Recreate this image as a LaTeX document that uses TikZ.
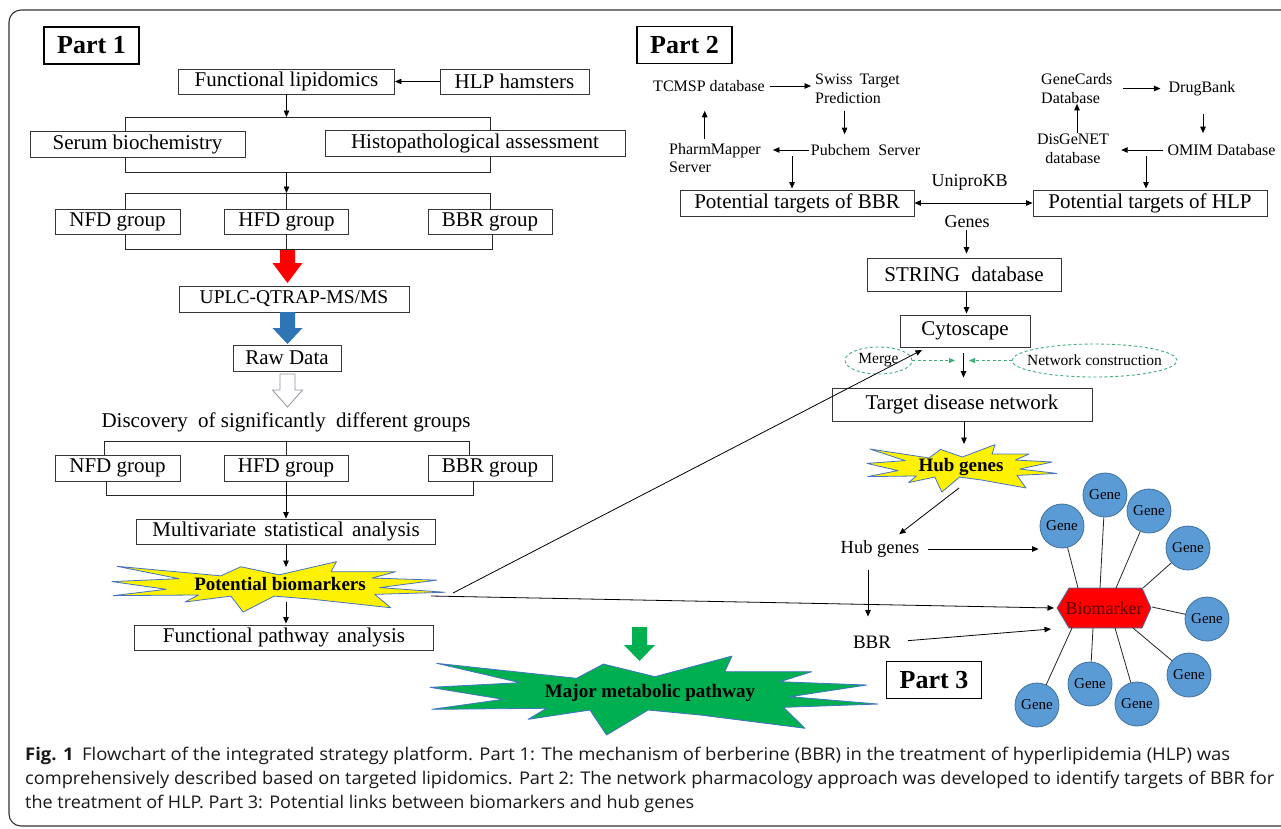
\documentclass[tikz,border=0pt]{standalone}
\usepackage{fontspec}
\usepackage{graphicx}
\setmainfont{Liberation Serif}
\newfontfamily\capfont{Open Sans}
\usetikzlibrary{arrows.meta}
\definecolor{boxline}{RGB}{55,55,55}
\definecolor{bluearr}{RGB}{46,117,182}
\definecolor{grayarr}{RGB}{140,150,165}
\definecolor{greenfill}{RGB}{0,176,80}
\definecolor{burstline}{RGB}{68,114,196}
\definecolor{genefill}{RGB}{91,155,213}
\definecolor{geneline}{RGB}{65,113,156}
\definecolor{dashgreen}{RGB}{60,175,120}
\definecolor{bmtext}{RGB}{90,0,0}
\tikzset{
 box/.style={draw=boxline, line width=0.9pt, inner sep=0pt, font=\fontsize{21}{24}\selectfont},
 titlebox/.style={draw=black, line width=1.5pt, inner sep=0pt, minimum width=95pt, minimum height=37pt, font=\bfseries\fontsize{26}{26}\selectfont},
 lab/.style={inner sep=0pt, font=\fontsize{16}{19}\selectfont, align=left},
 arr/.style={draw=black, line width=0.8pt, -{Triangle[length=6.5pt,width=5.5pt]}},
 dbl/.style={draw=black, line width=0.8pt, {Triangle[length=6.5pt,width=5.5pt]}-{Triangle[length=6.5pt,width=5.5pt]}},
 link/.style={draw=black!85, line width=0.8pt},
 greendash/.style={draw=dashgreen, line width=0.9pt, dash pattern=on 3pt off 2.5pt},
 greenarr/.style={greendash, -{Triangle[length=6pt,width=5pt]}},
 gene/.style={circle, fill=genefill, draw=geneline, line width=0.8pt, minimum size=44pt, inner sep=0pt, font=\fontsize{15}{15}\selectfont},
 burstyellow/.style={fill=yellow, draw=burstline, line width=0.8pt, line join=round},
 burstgreen/.style={fill=greenfill, draw=burstline, line width=0.8pt, line join=round},
 bursttext/.style={inner sep=0pt, font=\bfseries\fontsize{19}{19}\selectfont},
 captext/.style={anchor=base west, inner sep=0pt, text=black!90},
}
\newcommand{\burstshape}[5]{%
 \begin{scope}[shift={(#2,#3)}, xscale=#4, yscale=#5]
 \draw[#1] (0.015,0.104) -- (0.327,0.291) -- (0.387,0.113) -- (0.502,0.271) -- (0.674,0.013) -- (0.658,0.209) -- (0.852,0.209) -- (0.781,0.334) -- (0.975,0.375) -- (0.804,0.521) -- (1.0,0.613) -- (0.789,0.654) -- (0.837,0.916) -- (0.603,0.75) -- (0.487,0.688) -- (0.394,1.0) -- (0.357,0.688) -- (0.219,0.804) -- (0.260,0.666) -- (0.004,0.679) -- (0.163,0.554) -- (0.0,0.404) -- (0.201,0.346) -- cycle;
 \end{scope}}
\newcommand{\blockarrow}[6]{\draw[#1] ({#2-7.5},#3) -- ({#2+7.5},#3) -- ({#2+7.5},#4) -- ({#2+#6},#4) -- (#2,#5) -- ({#2-#6},#4) -- ({#2-7.5},#4) -- cycle;}
\begin{document}
\begin{tikzpicture}[x=1pt,y=-1pt]
\useasboundingbox (0,0) rectangle (1281,828);
\clip (0,0) rectangle (1281,828);
\fill[white] (0,0) rectangle (1281,828);
\draw[black!80, line width=1.1pt, rounded corners=12pt] (9,10) rectangle (1300,826);

% ---------------- Part 1 ----------------
\node[titlebox] (p1) at (91.5,45.5) {Part 1};
\node[box, minimum width=216pt, minimum height=25pt] (func) at (286.5,81.5) {Functional lipidomics};
\node[box, minimum width=149pt, minimum height=25pt] (hlp) at (514.5,81.5) {HLP hamsters};
\draw[arr] (hlp.west) -- (func.east);
\node[box, minimum width=215pt, minimum height=26pt] (serum) at (137.5,144) {Serum biochemistry};
\node[box, minimum width=300pt, minimum height=26pt] (histo) at (475,143) {Histopathological assessment};
\coordinate (b1l) at (125,117); \coordinate (b1r) at (490,117);
\draw[arr] (func.south) -- (func.south |- b1l);
\draw[link] (b1l |- serum.north) -- (b1l) -- (b1r) -- (b1r |- histo.north);
\coordinate (b2l) at (125,172); \coordinate (b2r) at (490,172); \coordinate (b2m) at (286.5,172);
\draw[link] (b1l |- serum.south) -- (b2l) -- (b2r) -- (b1r |- histo.south);
\node[box, minimum width=125pt, minimum height=25pt] (nfd1) at (117.5,221.5) {NFD group};
\node[box, minimum width=124pt, minimum height=25pt] (hfd1) at (286.5,221.5) {HFD group};
\node[box, minimum width=124pt, minimum height=25pt] (bbr1) at (490,221.5) {BBR group};
\coordinate (b3l) at (125,193); \coordinate (b3r) at (490,193); \coordinate (b3m) at (286.5,193);
\draw[arr] (b2m) -- (b3m);
\draw[link] (b3l |- nfd1.north) -- (b3l) -- (b3r) -- (b3r |- bbr1.north);
\draw[link] (b3m) -- (hfd1.north);
\coordinate (b4l) at (125,249); \coordinate (b4r) at (492,249);
\draw[link] (b4l |- nfd1.south) -- (b4l) -- (b4r) -- (b4r |- bbr1.south);
\draw[link] (hfd1.south) -- (hfd1.south |- b4l);
\blockarrow{fill=red, draw=none}{287.5}{250}{263}{283}{15}
\node[box, minimum width=230pt, minimum height=26pt, font=\fontsize{19.5}{22}\selectfont] (uplc) at (294,299) {UPLC-QTRAP-MS/MS};
\blockarrow{fill=bluearr, draw=none}{287.5}{312}{328}{344}{15}
\node[box, minimum width=108pt, minimum height=26pt] (raw) at (287,358) {Raw Data};
\blockarrow{fill=white, draw=grayarr, line width=0.8pt}{287.5}{374}{390}{407}{15}
\node[inner sep=0pt, font=\fontsize{21}{24}\selectfont] (disc) at (286,422) {Discovery\hspace{5pt} of significantly\hspace{5pt} different groups};
\node[box, minimum width=125pt, minimum height=26pt] (nfd2) at (117.5,468) {NFD group};
\node[box, minimum width=124pt, minimum height=26pt] (hfd2) at (286,468) {HFD group};
\node[box, minimum width=124pt, minimum height=26pt] (bbr2) at (490,468) {BBR group};
\coordinate (b5l) at (104,441); \coordinate (b5r) at (469,441); \coordinate (b5m) at (286,441);
\draw[link] (b5l |- nfd2.north) -- (b5l) -- (b5r) -- (b5r |- bbr2.north);
\draw[link] (b5m) -- (hfd2.north);
\coordinate (b6l) at (106,495); \coordinate (b6r) at (473,495);
\draw[link] (b6l |- nfd2.south) -- (b6l) -- (b6r) -- (b6r |- bbr2.south);
\node[box, minimum width=299pt, minimum height=25pt] (multi) at (286,531.5) {Multivariate\hspace{3pt} statistical\hspace{3pt} analysis};
\draw[arr] (hfd2.south) -- (multi.north);
\burstshape{burstyellow}{112}{561}{333}{51}
\node[bursttext] (pb) at (280,584) {Potential biomarkers};
\coordinate (pbtop) at (286,567);
\draw[arr] (multi.south) -- (pbtop);
\node[box, minimum width=299pt, minimum height=25pt] (fpa) at (284,637.5) {Functional pathway\hspace{3pt} analysis};
\coordinate (pbbot) at (286,602);
\draw[arr, shorten >=1pt] (pbbot) -- (pbbot |- fpa.north);
\blockarrow{fill=greenfill, draw=none}{639.5}{627}{645}{661}{15.5}
\burstshape{burstgreen}{430}{655}{448}{80}
\node[bursttext] (mmp) at (650,693) {Major metabolic pathway};

% ---------------- Part 2 ----------------
\node[titlebox] (p2) at (684.5,45) {Part 2};
\node[lab] (tcmsp) at (709,86) {TCMSP database};
\node[lab, anchor=west] (swiss) at (815,88.5) {Swiss\hspace{3pt} Target\\Prediction};
\node[lab] (pub) at (865.5,150) {Pubchem\hspace{4pt} Server};
\node[lab, anchor=west, font=\fontsize{16}{18}\selectfont] (pharm) at (669,158) {PharmMapper\\Server};
\coordinate (x1) at (844.6,0); \coordinate (x2) at (704.7,0); \coordinate (x3) at (792,0);
\draw[arr, shorten <=5pt, shorten >=4pt] (tcmsp.east) -- (tcmsp.east -| swiss.west);
\draw[arr, shorten <=7pt, shorten >=10pt] (swiss.south -| x1) -- (pub.north -| x1);
\draw[arr, shorten <=2pt, shorten >=12pt] (pub.west) -- (pub.west -| pharm.east);
\draw[arr, shorten <=4pt, shorten >=19pt] (pharm.north -| x2) -- (tcmsp.south -| x2);
\node[box, minimum width=234pt, minimum height=26pt] (bbrT) at (797,203) {Potential targets of BBR};
\node[box, minimum width=234pt, minimum height=26pt] (hlpT) at (1150,203) {Potential targets of HLP};
\draw[arr, shorten >=1pt] (pub.south -| x3) -- (bbrT.north -| x3);
\draw[dbl] (bbrT.east) -- (hlpT.west);
\node[inner sep=0pt, font=\fontsize{18}{18}\selectfont] (uni) at (969.6,182) {UniproKB};
\node[inner sep=0pt, font=\fontsize{18}{18}\selectfont] (genes) at (967,222) {Genes};
\node[lab, anchor=west] (gc) at (1041,88.5) {GeneCards\\Database};
\node[lab] (db) at (1202,89) {DrugBank};
\node[lab] (omim) at (1221.5,150) {OMIM Database};
\node[lab, align=center] (dis) at (1073,149) {DisGeNET\\database};
\coordinate (x5) at (1203,0); \coordinate (x6) at (1077,0); \coordinate (x7) at (1146,0);
\draw[arr, shorten <=10pt, shorten >=8pt] (gc.east) -- (gc.east -| db.west);
\draw[arr, shorten <=18pt, shorten >=11pt] (db.south -| x5) -- (omim.north -| x5);
\draw[arr, shorten <=4pt, shorten >=12pt] (omim.west) -- (omim.west -| dis.east);
\draw[arr, shorten <=1pt] (dis.north -| x6) -- (gc.south -| x6);
\draw[arr, shorten >=1pt] (omim.south -| x7) -- (hlpT.north -| x7);
\coordinate (x4) at (966.5,0);
\node[box, minimum width=194pt, minimum height=33pt] (string) at (964,274.5) {STRING\hspace{6pt} database};
\draw[arr, shorten <=2pt, shorten >=4pt] (genes.south -| x4) -- (string.north -| x4);
\node[box, minimum width=130pt, minimum height=32pt] (cyto) at (965,331) {Cytoscape};
\draw[arr, shorten >=1pt] (string.south -| x4) -- (cyto.north -| x4);
\node[inner sep=0pt, font=\fontsize{15.5}{15.5}\selectfont] (merge) at (878.5,360.5) {Merge};
\draw[greendash] (merge) ellipse [x radius=33.5pt, y radius=13.5pt];
\node[inner sep=0pt, font=\fontsize{15.5}{15.5}\selectfont] (net) at (1094.5,360.5) {Network construction};
\draw[greendash] (net) ellipse [x radius=82.5pt, y radius=16.5pt];
\coordinate (mj) at (955,360.5); \coordinate (nj) at (969,360.5);
\draw[greenarr] ([xshift=33.5pt]merge.center) -- (mj);
\draw[greenarr] ([xshift=-82.5pt]net.center) -- (nj);
\node[box, minimum width=260pt, minimum height=33pt] (target) at (962,404.5) {Target disease network};
\coordinate (x8) at (963.5,0);
\draw[arr, shorten <=6pt, shorten >=10pt] (cyto.south -| x8) -- (target.north -| x8);
\burstshape{burstyellow}{867}{444}{190}{48}
\node[bursttext] (hubstar) at (961,466.5) {Hub genes};
\coordinate (hubtop) at (964,444);
\draw[arr] (target.south -| hubtop) -- (hubtop);

% ---------------- Part 3 ----------------
\node[inner sep=0pt, font=\fontsize{18.5}{18.5}\selectfont] (hubtxt) at (880,549) {Hub genes};
\coordinate (hubout) at (959,488);
\draw[arr, shorten >=10pt] (hubout) -- (hubtxt);
\node[inner sep=0pt, font=\fontsize{19}{19}\selectfont] (bbrtxt) at (872,642) {BBR};
\coordinate (x9) at (868,0);
\draw[arr, shorten <=12pt, shorten >=19pt] (hubtxt.south -| x9) -- (bbrtxt.north -| x9);
\node[gene] (g1) at (1062,526) {Gene};
\node[gene] (g2) at (1105,495) {Gene};
\node[gene] (g3) at (1149,511) {Gene};
\node[gene] (g4) at (1188,548) {Gene};
\node[gene] (g5) at (1207,619) {Gene};
\node[gene] (g6) at (1189,675) {Gene};
\node[gene] (g7) at (1137,704) {Gene};
\node[gene] (g8) at (1090,684) {Gene};
\node[gene] (g9) at (1037,705) {Gene};
\draw[arr, shorten <=8pt, shorten >=1pt] (hubtxt.east) -- (hubtxt.east -| g1.west);
\draw[fill=red, draw=geneline, line width=0.8pt] (1057,608) -- (1069,588) -- (1142,588) -- (1151,608) -- (1142,628) -- (1069,628) -- cycle;
\node[inner sep=0pt, font=\fontsize{18}{18}\selectfont, text=bmtext] (bm) at (1104,608) {Biomarker};
\coordinate (h1) at (1078,588); \coordinate (h2) at (1100,588); \coordinate (h3) at (1116,588);
\coordinate (h4) at (1143,588); \coordinate (h5) at (1152,607); \coordinate (h6) at (1133,628);
\coordinate (h7) at (1115,628); \coordinate (h8) at (1093,628); \coordinate (h9) at (1072,628);
\foreach \i in {1,...,9} { \draw[link] (h\i) -- (g\i); }
\coordinate (bmin1) at (1054,608);
\coordinate (bmin2) at (1051,629);
\draw[arr, shorten <=17pt] (bbrtxt.east) -- (bmin2);
\coordinate (pbr1) at (453,593); \coordinate (cytoin) at (922,350);
\coordinate (pbr2) at (431,596);
\draw[arr] (pbr1) -- (cytoin);
\draw[arr] (pbr2) -- (bmin1);
\node[titlebox] (p3) at (934,680) {Part 3};

% ---------------- Caption ----------------
\node[captext] (cap1) at (25,760) {\resizebox{1205pt}{\height}{\capfont\fontsize{17.5}{17.5}\selectfont\textbf{Fig. 1}\hspace{8pt}Flowchart of the integrated strategy platform. Part 1: The mechanism of berberine (BBR) in the treatment of hyperlipidemia (HLP) was}};
\node[captext] (cap2) at (25,784) {\resizebox{1249pt}{\height}{\capfont\fontsize{17.5}{17.5}\selectfont comprehensively described based on targeted lipidomics. Part 2: The network pharmacology approach was developed to identify targets of BBR for}};
\node[captext] (cap3) at (25,808) {\resizebox{669pt}{\height}{\capfont\fontsize{17.5}{17.5}\selectfont the treatment of HLP. Part 3: Potential links between biomarkers and hub genes}};
\end{tikzpicture}
\end{document}
